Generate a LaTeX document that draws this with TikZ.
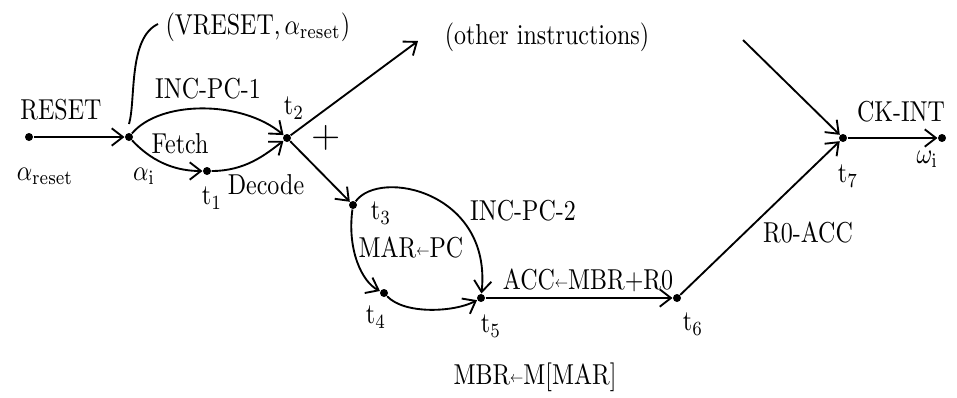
\documentclass[tikz,border=0pt]{standalone}
\usetikzlibrary{arrows.meta}
\newcommand{\lar}{\raisebox{0.15ex}{\scalebox{0.55}{$\leftarrow$}}}
\newcommand{\T}[1]{\scalebox{0.9}[1.08]{#1}}
\begin{document}
\begin{tikzpicture}[x=0.375pt,y=-0.375pt,
  dot/.style={circle,fill,inner sep=0pt,minimum size=3pt},
  arr/.style={line width=0.7pt,-{Straight Barb[length=4.2pt,width=6.5pt,line width=0.7pt]}},
  ln/.style={line width=0.7pt},
  lab/.style={inner sep=0pt}]
\useasboundingbox (0,0) rectangle (957,397);
% points
\node[dot] (s)  at (29,137) {};
\node[dot] (t0) at (129,137) {};
\node[dot] (t1) at (207,171) {};
\node[dot] (t2) at (287,138) {};
\node[dot] (t3) at (353,205) {};
\node[dot] (t4) at (384,293) {};
\node[dot] (t5) at (481,298) {};
\node[dot] (t6) at (677,298) {};
\node[dot] (t7) at (843,138) {};
\node[dot] (e)  at (942,138) {};
\coordinate (oi) at (418,41);
\coordinate (in7) at (743,40);
\coordinate (b0) at (129,124);
\coordinate (b1) at (158,24);
% edges
\draw[arr] (s) -- (t0);
\draw[arr] (t0) .. controls (160,100) and (242,100) .. (t2);
\draw[arr] (t0) .. controls (155,165) and (180,171) .. (t1);
\draw[arr] (t1) .. controls (245,171) and (265,155) .. (t2);
\draw[arr] (t2) -- (oi);
\draw[arr] (t2) -- (t3);
\draw[arr] (t3) .. controls (347,250) and (362,282) .. (t4);
\draw[arr] (t3) .. controls (380,168) and (492,192) .. (t5);
\draw[arr] (t4) .. controls (405,315) and (455,312) .. (t5);
\draw[arr] (t5) -- (t6);
\draw[arr] (t6) -- (t7);
\draw[arr] (in7) -- (t7);
\draw[arr] (t7) -- (e);
\draw[ln] (b0) .. controls (136,100) and (128,38) .. (b1);
% labels
\node[lab] (l1) at (61,110) {\T{RESET}};
\node[lab] (l2) at (45,176) {\T{$\alpha_{\mathrm{reset}}$}};
\node[lab,anchor=west] (l3) at (165,27) {\T{(VRESET,\,$\alpha_{\mathrm{reset}}$)}};
\node[lab] (l4) at (208,89) {\T{INC-PC-1}};
\node[lab] (l5) at (180,144) {\T{Fetch}};
\node[lab] (l6) at (144,176) {\T{$\alpha_{\mathrm{i}}$}};
\node[lab] (l7) at (212,198) {\T{t$_1$}};
\node[lab] (l8) at (266,185) {\T{Decode}};
\node[lab] (l9) at (294,108) {\T{t$_2$}};
\node[lab] (l10) at (326,138) {\Large +};
\node[lab] (l11) at (547,37) {\T{(other instructions)}};
\node[lab] (l12) at (381,213) {\T{t$_3$}};
\node[lab] (l13) at (523,211) {\T{INC-PC-2}};
\node[lab] (l14) at (411,247) {\T{MAR\lar PC}};
\node[lab] (l15) at (376,317) {\T{t$_4$}};
\node[lab] (l16) at (491,326) {\T{t$_5$}};
\node[lab] (l17) at (588,280) {\T{ACC\lar MBR+R0}};
\node[lab] (l18) at (693,324) {\T{t$_6$}};
\node[lab] (l19) at (535,377) {\T{MBR\lar M[MAR]}};
\node[lab] (l20) at (808,232) {\T{R0-ACC}};
\node[lab] (l21) at (901,112) {\T{CK-INT}};
\node[lab] (l22) at (848,176) {\T{t$_7$}};
\node[lab,anchor=west] (l23) at (916,159) {\T{$\omega_{\mathrm{i}}$}};
\end{tikzpicture}
\end{document}
